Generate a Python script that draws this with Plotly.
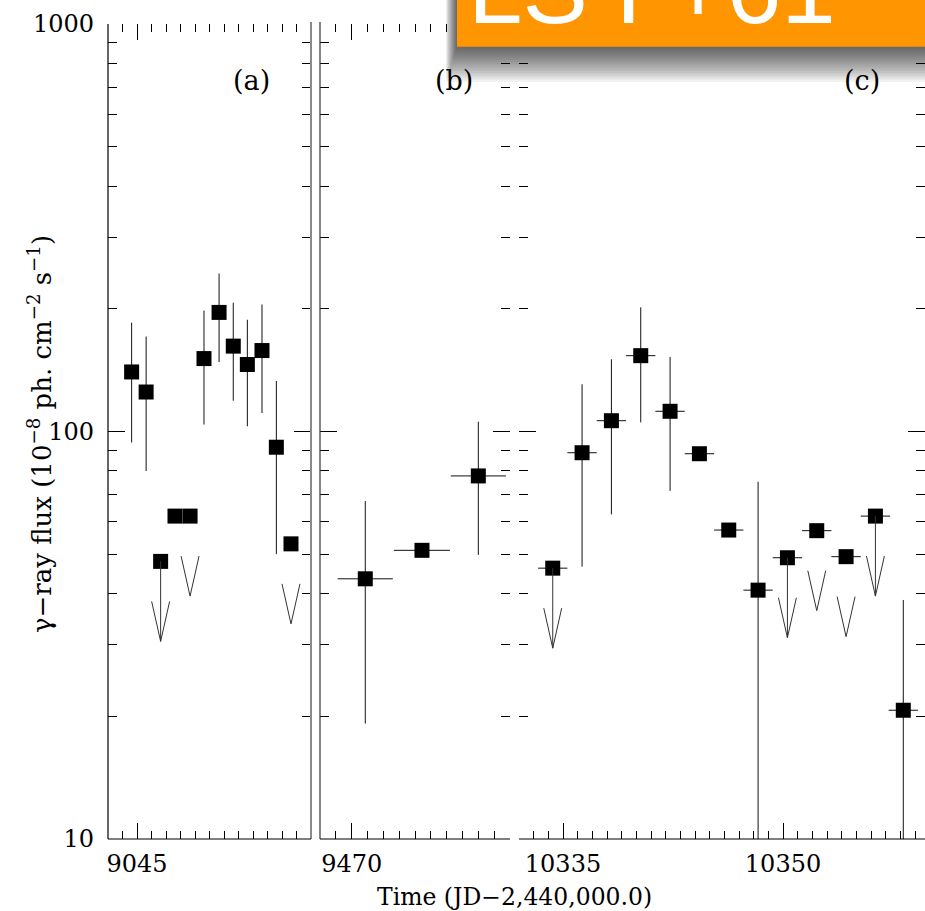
import plotly.graph_objects as go

W, H = 925, 911

# ---------------- data ----------------
# Panel (a)
a_time = [9044.63, 9045.63, 9046.63, 9047.62, 9048.66, 9049.62, 9050.66,
          9051.64, 9052.61, 9053.62, 9054.61, 9055.62]
a_flux = [140, 125, 48, 62, 62, 151, 196, 162, 146, 158, 91.5, 53]
a_hi = [185, 171, None, None, None, 198, 244, 207, 188, 205, 133, None]
a_lo = [94, 80, None, None, None, 104, 148, 119, 103, 111, 50, None]
a_arrow = [0, 0, 2, 0, 1, 0, 0, 0, 0, 0, 0, 1]   # 0 none, 1 head only, 2 stem + head

# Panel (b)
b_time = [9470.86, 9474.44, 9478.0]
b_flux = [43.5, 51.1, 77.8]
b_hi = [67.5, None, 105.7]
b_lo = [19.2, None, 49.8]
b_xerr = [1.74, 1.77, 1.74]

# Panel (c)
c_time = [10334.3, 10336.3, 10338.3, 10340.3, 10342.3, 10344.3, 10346.3,
          10348.3, 10350.3, 10352.3, 10354.3, 10356.3, 10358.2]
c_flux = [46.2, 88.7, 106.3, 153.5, 112.1, 88.2, 57.3, 40.8, 49.0, 57.1, 49.3, 62.0, 20.7]
c_hi = [None, 130.6, 150.4, 201.7, 152.3, None, None, 75.3, None, None, None, None, 38.6]
c_lo = [None, 46.6, 62.6, 105.3, 71.5, None, None, 5, None, None, None, None, 5]
c_xerr = [1.0] * 13
c_arrow = [2, 0, 0, 0, 0, 0, 0, 0, 2, 1, 1, 2, 0]

x_ticks_a = [9045]
x_ticks_b = [9470]
x_ticks_c = [10335, 10350]
y_ticks = [10, 100, 1000]
y_minor = [20, 30, 40, 50, 60, 70, 80, 90, 200, 300, 400, 500, 600, 700, 800, 900]

# ---------------- helpers ----------------
def px(x):
    return x / W


def py(y):
    return 1 - y / H


PX_PER_DECADE = 407.5
TIP = 10 ** (-80 / PX_PER_DECADE)
ARM = 10 ** (40 / PX_PER_DECADE)


def errs(flux, hi, lo):
    plus = [(h - f) if h is not None else 0 for f, h in zip(flux, hi)]
    minus = [(f - l) if l is not None else 0 for f, l in zip(flux, lo)]
    return plus, minus


def arrows(times, flux, codes, halfw):
    xs, ys = [], []
    for t, f, c in zip(times, flux, codes):
        if c == 0:
            continue
        tip = f * TIP
        if c == 2:
            xs += [t, t, None]
            ys += [f, tip, None]
        xs += [t - halfw, t, t + halfw, None]
        ys += [tip * ARM, tip, tip * ARM, None]
    return xs, ys


FONT = "DejaVu Serif"
fig = go.Figure()

marker = dict(symbol="square", size=15, color="black", line=dict(width=0))
ebar = dict(color="#111", thickness=1, width=0)

# panel a
p, m = errs(a_flux, a_hi, a_lo)
fig.add_trace(go.Scatter(x=a_time, y=a_flux, mode="markers", marker=marker,
                         error_y=dict(type="data", symmetric=False, array=p, arrayminus=m, **ebar),
                         xaxis="x", yaxis="y", showlegend=False))
ax_, ay_ = arrows(a_time, a_flux, a_arrow, 0.62)
fig.add_trace(go.Scatter(x=ax_, y=ay_, mode="lines", line=dict(color="#333", width=1),
                         xaxis="x", yaxis="y", showlegend=False))

# panel b
p, m = errs(b_flux, b_hi, b_lo)
fig.add_trace(go.Scatter(x=b_time, y=b_flux, mode="markers", marker=marker,
                         error_y=dict(type="data", symmetric=False, array=p, arrayminus=m, **ebar),
                         error_x=dict(type="data", array=b_xerr, **ebar),
                         xaxis="x2", yaxis="y2", showlegend=False))

# panel c
p, m = errs(c_flux, c_hi, c_lo)
fig.add_trace(go.Scatter(x=c_time, y=c_flux, mode="markers", marker=marker,
                         error_y=dict(type="data", symmetric=False, array=p, arrayminus=m, **ebar),
                         error_x=dict(type="data", array=c_xerr, **ebar),
                         xaxis="x3", yaxis="y3", showlegend=False))
cx_, cy_ = arrows(c_time, c_flux, c_arrow, 0.61)
fig.add_trace(go.Scatter(x=cx_, y=cy_, mode="lines", line=dict(color="#333", width=1),
                         xaxis="x3", yaxis="y3", showlegend=False))

# ---------------- axes ----------------
YDOM = [py(839), py(24)]


def xax(domain, rng, ticks, anchor):
    return dict(domain=domain, range=rng, anchor=anchor, tickmode="array", tickvals=ticks,
                ticktext=[str(t) for t in ticks], ticks="inside", ticklen=16, tickwidth=1,
                tickcolor="black", mirror="ticks", showline=False, showgrid=False, zeroline=False,
                ticklabelstandoff=8, automargin=False,
                tickfont=dict(family=FONT, size=24, color="black"),
                minor=dict(dtick=1, tick0=0, ticks="inside", ticklen=8, tickwidth=1,
                           tickcolor="black", showgrid=False))


def yax(anchor, labels):
    return dict(domain=YDOM, type="log", range=[0.99999, 3.00001], anchor=anchor,
                tickmode="array", tickvals=y_ticks, ticktext=[str(t) for t in y_ticks],
                showticklabels=labels, ticks="inside", ticklen=17, tickwidth=1,
                tickcolor="black", mirror="ticks", showline=False, showgrid=False,
                zeroline=False, ticklabelstandoff=13, automargin=False,
                tickfont=dict(family=FONT, size=24, color="black"),
                minor=dict(tickmode="array", tickvals=y_minor, ticks="inside", ticklen=9,
                           tickwidth=1, tickcolor="black", showgrid=False))


fig.update_layout(
    width=W, height=H, margin=dict(l=0, r=0, t=0, b=0, autoexpand=False),
    paper_bgcolor="white", plot_bgcolor="white",
    font=dict(family=FONT, size=23, color="black"),
    xaxis=xax([px(108), px(311)], [9043, 9057], x_ticks_a, "y"),
    xaxis2=xax([px(320), px(510)], [9468, 9480], x_ticks_b, "y2"),
    xaxis3=xax([px(519), 1.0], [10332, 10359.68], x_ticks_c, "y3"),
    yaxis=yax("x", True),
    yaxis2=yax("x2", False),
    yaxis3=yax("x3", False),
)

# ---------------- axis lines ----------------
shapes = []
def line(x0, y0, x1, y1, color="black", width=1.2):
    shapes.append(dict(type="line", xref="paper", yref="paper", x0=px(x0), y0=py(y0),
                       x1=px(x1), y1=py(y1), line=dict(color=color, width=width)))

line(108, 24, 108, 839)
line(311, 22, 311, 839, color="#8a8a8a", width=2)
line(320, 22, 320, 839, color="#333", width=1.2)
line(108, 839, 311, 839)
line(320, 839, 510, 839)
line(519, 839, 925, 839)

# shadow of the banner
for k in range(1, 17):
    shapes.append(dict(type="rect", xref="paper", yref="paper",
                       x0=px(457 - 0.7 * k), x1=1.05, y0=py(46.7 + 2.2 * k), y1=1.05,
                       fillcolor="rgba(0,0,0,0.05)", line=dict(width=0)))
# banner
shapes.append(dict(type="rect", xref="paper", yref="paper", x0=px(457), x1=1.05,
                   y0=py(46.7), y1=1.05, fillcolor="#FF9500", line=dict(width=0)))
fig.update_layout(shapes=shapes)

# ---------------- text ----------------
ann = []
for txt, x in [("(a)", 251), ("(b)", 454), ("(c)", 862)]:
    ann.append(dict(text=txt, x=px(x), y=py(80), xref="paper", yref="paper",
                    xanchor="center", yanchor="middle", showarrow=False,
                    font=dict(family=FONT, size=27, color="black")))
ann.append(dict(text="Time (JD\u22122,440,000.0)", x=px(514), y=py(897), xref="paper",
                yref="paper", xanchor="center", yanchor="middle", showarrow=False,
                font=dict(family=FONT, size=23.5, color="black")))
ann.append(dict(text="\u03b3\u2212ray flux (10<sup>\u22128</sup> ph. cm<sup>\u22122</sup> s<sup>\u22121</sup>)",
                x=px(40), y=py(434), xref="paper", yref="paper", textangle=-90,
                xanchor="center", yanchor="middle", showarrow=False,
                font=dict(family=FONT, size=26, color="black")))
ann.append(dict(text="LS I +61", x=px(466), y=py(46), xref="paper", yref="paper",
                xanchor="left", yanchor="bottom", showarrow=False,
                font=dict(family="Liberation Sans", size=98, color="white")))
fig.update_layout(annotations=ann)

fig.write_html("out.html")
